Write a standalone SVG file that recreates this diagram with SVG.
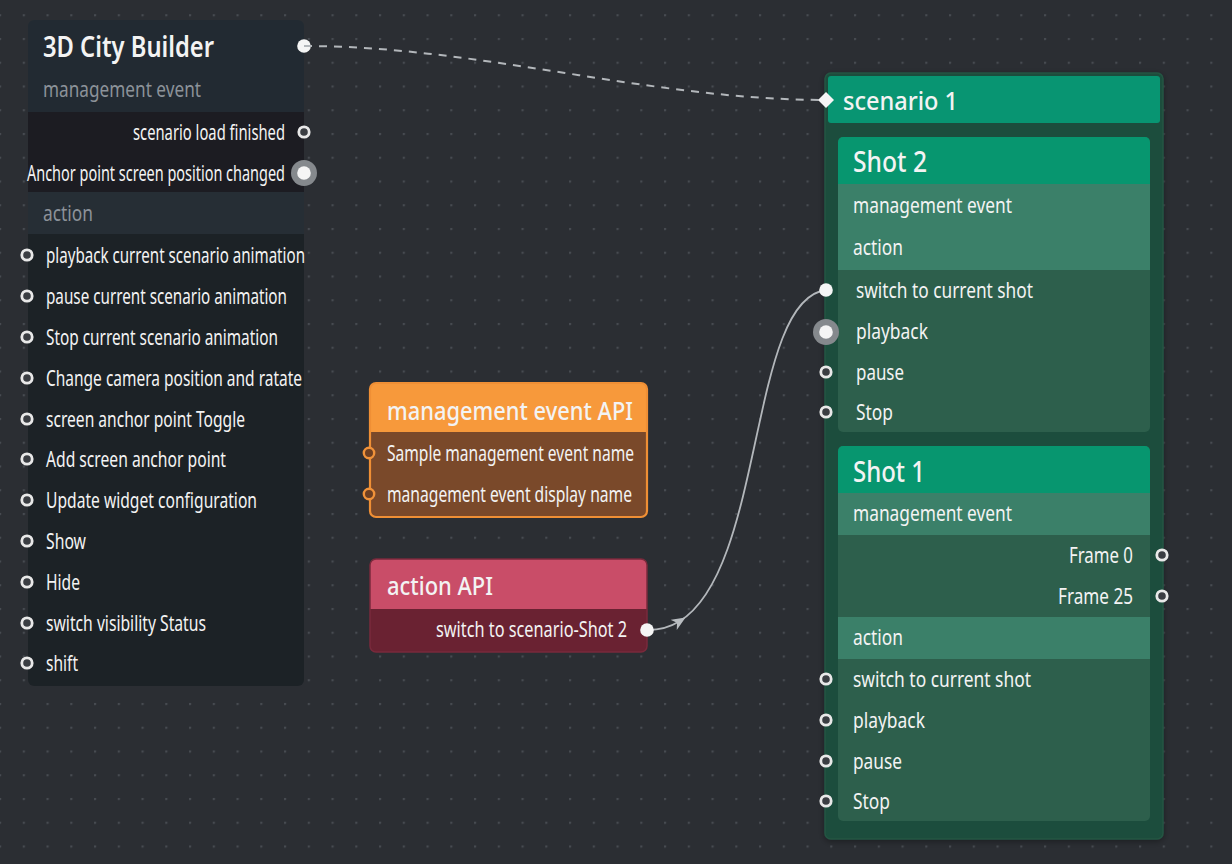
<svg xmlns="http://www.w3.org/2000/svg" width="1232" height="864" viewBox="0 0 1232 864">
  <defs>
    <pattern id="dots" x="-1" y="14.2" width="23.75" height="23.75" patternUnits="userSpaceOnUse">
      <circle cx="1" cy="1" r="1.3" fill="#474b51"/>
    </pattern>
    <marker id="arrow" viewBox="0 0 14 12" refX="7" refY="6" markerWidth="14" markerHeight="12" markerUnits="userSpaceOnUse" orient="auto">
      <path d="M0,0 L14,6 L0,12 L4,6 Z" fill="#b9bdc1"/>
    </marker>
    <filter id="shadow" x="-10%" y="-10%" width="120%" height="120%">
      <feDropShadow dx="0" dy="2" stdDeviation="3" flood-color="#000" flood-opacity="0.35"/>
    </filter>
    <clipPath id="clipLeft"><rect x="28" y="20" width="276" height="666" rx="6"/></clipPath>
    <clipPath id="clipMgmt"><rect x="370" y="383" width="277" height="134" rx="6"/></clipPath>
    <clipPath id="clipAct"><rect x="370" y="559" width="277" height="93" rx="6"/></clipPath>
    <clipPath id="clipShot2"><rect x="838" y="137" width="312" height="295" rx="5"/></clipPath>
    <clipPath id="clipShot1"><rect x="838" y="446" width="312" height="375" rx="5"/></clipPath>
    <style>
      .t { font-family: "Noto Sans", "Liberation Sans", sans-serif; fill: #f3f3f3; }
      .row { font-size: 22px; }
      .small { font-size: 21px; }
      .sec { font-size: 22px; fill: #8c9299; }
      .title { font-size: 28px; font-weight: 600; }
      .htitle { font-size: 26px; font-weight: 500; }
      .pr { fill: #3a3d42; stroke: #e8e8e8; stroke-width: 2.8; }
      .pf { fill: #f5f5f5; }
      .halo { fill: #85898d; }
      .po { fill: #6e3f22; stroke: #f0923a; stroke-width: 2.4; }
    </style>
  </defs>

  <rect x="0" y="0" width="1232" height="864" fill="#2b2e33"/>
  <rect x="0" y="0" width="1232" height="864" fill="url(#dots)"/>

  <!-- Left node: 3D City Builder -->
  <g id="node-city-builder">
    <g clip-path="url(#clipLeft)" filter="url(#shadow)">
      <rect x="28" y="20" width="276" height="666" fill="#1f2227"/>
      <rect x="28" y="20" width="276" height="92" fill="#222a32"/>
      <rect x="28" y="112" width="276" height="80" fill="#1b1d21"/>
      <rect x="28" y="192" width="276" height="42" fill="#262d35"/>
    </g>
    <text class="t title" x="43" y="57" textLength="171" lengthAdjust="spacingAndGlyphs">3D City Builder</text>
    <text class="t sec" x="43" y="97" textLength="158" lengthAdjust="spacingAndGlyphs">management event</text>
    <text class="t row" x="133" y="140" textLength="152" lengthAdjust="spacingAndGlyphs">scenario load finished</text>
    <text class="t row" x="27" y="181" textLength="258" lengthAdjust="spacingAndGlyphs">Anchor point screen position changed</text>
    <text class="t sec" x="43" y="221" textLength="50" lengthAdjust="spacingAndGlyphs">action</text>
    <text class="t row" x="46" y="263" textLength="259" lengthAdjust="spacingAndGlyphs">playback current scenario animation</text>
    <text class="t row" x="46" y="304" textLength="241" lengthAdjust="spacingAndGlyphs">pause current scenario animation</text>
    <text class="t row" x="46" y="345" textLength="232" lengthAdjust="spacingAndGlyphs">Stop current scenario animation</text>
    <text class="t row" x="46" y="386" textLength="256" lengthAdjust="spacingAndGlyphs">Change camera position and ratate</text>
    <text class="t row" x="46" y="427" textLength="199" lengthAdjust="spacingAndGlyphs">screen anchor point Toggle</text>
    <text class="t row" x="46" y="467" textLength="180" lengthAdjust="spacingAndGlyphs">Add screen anchor point</text>
    <text class="t row" x="46" y="508" textLength="211" lengthAdjust="spacingAndGlyphs">Update widget configuration</text>
    <text class="t row" x="46" y="549" textLength="40" lengthAdjust="spacingAndGlyphs">Show</text>
    <text class="t row" x="46" y="590" textLength="34" lengthAdjust="spacingAndGlyphs">Hide</text>
    <text class="t row" x="46" y="631" textLength="160" lengthAdjust="spacingAndGlyphs">switch visibility Status</text>
    <text class="t row" x="46" y="671" textLength="32" lengthAdjust="spacingAndGlyphs">shift</text>
    <circle class="pf" cx="304" cy="46" r="6.8"/>
    <circle class="pr" cx="304" cy="132" r="5.2"/>
    <circle class="halo" cx="304" cy="173" r="13"/>
    <circle class="pf" cx="304" cy="173" r="6.8"/>
    <circle class="pr" cx="27" cy="255" r="5.2"/>
    <circle class="pr" cx="27" cy="296" r="5.2"/>
    <circle class="pr" cx="27" cy="337" r="5.2"/>
    <circle class="pr" cx="27" cy="378" r="5.2"/>
    <circle class="pr" cx="27" cy="419" r="5.2"/>
    <circle class="pr" cx="27" cy="459" r="5.2"/>
    <circle class="pr" cx="27" cy="500" r="5.2"/>
    <circle class="pr" cx="27" cy="541" r="5.2"/>
    <circle class="pr" cx="27" cy="582" r="5.2"/>
    <circle class="pr" cx="27" cy="623" r="5.2"/>
    <circle class="pr" cx="27" cy="663" r="5.2"/>
  </g>

  <!-- management event API -->
  <g id="node-management-event-api">
    <g clip-path="url(#clipMgmt)" filter="url(#shadow)">
      <rect x="370" y="383" width="277" height="134" fill="#7a4a2b"/>
      <rect x="370" y="383" width="277" height="49" fill="#f7993b"/>
    </g>
    <rect x="370" y="383" width="277" height="134" rx="6" fill="none" stroke="#ef8f35" stroke-width="2.2"/>
    <text class="t htitle" x="387" y="420" textLength="246" lengthAdjust="spacingAndGlyphs">management event API</text>
    <text class="t small" x="387" y="461" textLength="247" lengthAdjust="spacingAndGlyphs">Sample management event name</text>
    <text class="t small" x="387" y="502" textLength="245" lengthAdjust="spacingAndGlyphs">management event display name</text>
    <circle class="po" cx="369" cy="453" r="5.2"/>
    <circle class="po" cx="369" cy="494" r="5.2"/>
  </g>

  <!-- action API -->
  <g id="node-action-api">
    <g clip-path="url(#clipAct)" filter="url(#shadow)">
      <rect x="370" y="559" width="277" height="93" fill="#6a2233"/>
      <rect x="370" y="559" width="277" height="50" fill="#c94d68"/>
    </g>
    <rect x="370" y="559" width="277" height="93" rx="6" fill="none" stroke="#7a2a3c" stroke-width="1.5"/>
    <text class="t htitle" x="387" y="595" textLength="106" lengthAdjust="spacingAndGlyphs">action API</text>
    <text class="t small" x="436" y="637" textLength="191" lengthAdjust="spacingAndGlyphs">switch to scenario-Shot 2</text>
  </g>

  <!-- scenario 1 -->
  <g id="node-scenario-1">
    <rect x="825" y="73" width="338" height="766" rx="6" fill="#1f4d3c" stroke="#235643" stroke-width="1.5" filter="url(#shadow)"/>
    <rect x="828" y="76" width="332" height="47" rx="3" fill="#089572"/>
    <text class="t htitle" x="843" y="110" textLength="115" lengthAdjust="spacingAndGlyphs">scenario 1</text>
  </g>

  <!-- Shot 2 -->
  <g id="node-shot-2">
    <g clip-path="url(#clipShot2)">
      <rect x="838" y="137" width="312" height="295" fill="#2d5f4c"/>
      <rect x="838" y="137" width="312" height="47" fill="#07966f"/>
      <rect x="838" y="184" width="312" height="86" fill="#3b8069"/>
    </g>
    <text class="t title" x="853" y="172" textLength="74" lengthAdjust="spacingAndGlyphs" style="font-weight:500">Shot 2</text>
    <text class="t row" x="853" y="213" textLength="159" lengthAdjust="spacingAndGlyphs">management event</text>
    <text class="t row" x="853" y="255" textLength="50" lengthAdjust="spacingAndGlyphs">action</text>
    <text class="t row" x="856" y="298" textLength="177" lengthAdjust="spacingAndGlyphs">switch to current shot</text>
    <text class="t row" x="856" y="339" textLength="72" lengthAdjust="spacingAndGlyphs">playback</text>
    <text class="t row" x="856" y="380" textLength="48" lengthAdjust="spacingAndGlyphs">pause</text>
    <text class="t row" x="856" y="420" textLength="37" lengthAdjust="spacingAndGlyphs">Stop</text>
  </g>

  <!-- Shot 1 -->
  <g id="node-shot-1">
    <g clip-path="url(#clipShot1)">
      <rect x="838" y="446" width="312" height="375" fill="#2d5f4c"/>
      <rect x="838" y="446" width="312" height="47" fill="#07966f"/>
      <rect x="838" y="493" width="312" height="42" fill="#3b8069"/>
      <rect x="838" y="617" width="312" height="42" fill="#3b8069"/>
    </g>
    <text class="t title" x="853" y="482" textLength="72" lengthAdjust="spacingAndGlyphs" style="font-weight:500">Shot 1</text>
    <text class="t row" x="853" y="521" textLength="159" lengthAdjust="spacingAndGlyphs">management event</text>
    <text class="t row" x="1069" y="563" textLength="64" lengthAdjust="spacingAndGlyphs">Frame 0</text>
    <text class="t row" x="1058" y="604" textLength="75" lengthAdjust="spacingAndGlyphs">Frame 25</text>
    <text class="t row" x="853" y="645" textLength="50" lengthAdjust="spacingAndGlyphs">action</text>
    <text class="t row" x="853" y="687" textLength="178" lengthAdjust="spacingAndGlyphs">switch to current shot</text>
    <text class="t row" x="853" y="728" textLength="72" lengthAdjust="spacingAndGlyphs">playback</text>
    <text class="t row" x="853" y="769" textLength="49" lengthAdjust="spacingAndGlyphs">pause</text>
    <text class="t row" x="853" y="809" textLength="37" lengthAdjust="spacingAndGlyphs">Stop</text>
    <circle class="pr" cx="1162" cy="555" r="5.2"/>
    <circle class="pr" cx="1162" cy="596" r="5.2"/>
    <circle class="pr" cx="826" cy="679" r="5.2"/>
    <circle class="pr" cx="826" cy="720" r="5.2"/>
    <circle class="pr" cx="826" cy="761" r="5.2"/>
    <circle class="pr" cx="826" cy="801" r="5.2"/>
  </g>

  <!-- Connectors -->
  <g id="connectors" fill="none">
    <path d="M304,46 C480,46 650,100 826,100" stroke="#b3b7bb" stroke-width="2" stroke-dasharray="8 7"/>
    <path d="M647,630 C659.3,630.2 670.07,627.06 679.58,621.24 C765.16,568.82 748.6,299 826,290" stroke="#b3b7bb" stroke-width="1.8" marker-mid="url(#arrow)"/>
  </g>

  <!-- Ports on connector ends (drawn above lines) -->
  <g id="ports-top">
    <path d="M826,92 L834,100 L826,108 L818,100 Z" fill="#f5f5f5"/>
    <circle class="pf" cx="647" cy="630" r="6.8"/>
    <circle class="pf" cx="826" cy="290" r="6.8"/>
    <circle class="halo" cx="826" cy="332" r="13"/>
    <circle class="pf" cx="826" cy="332" r="6.8"/>
    <circle class="pr" cx="826" cy="372" r="5.2"/>
    <circle class="pr" cx="826" cy="412" r="5.2"/>
  </g>
</svg>
